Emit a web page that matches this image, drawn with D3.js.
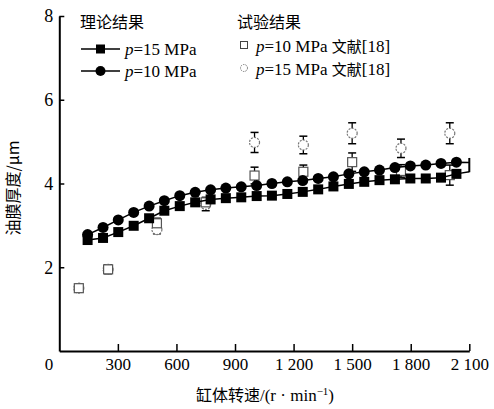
<!DOCTYPE html>
<html lang="zh">
<head>
<meta charset="UTF-8">
<title>油膜厚度</title>
<script src="https://d3js.org/d3.v7.min.js"></script>
<style>
  body { margin: 0; background: #fff; }
  svg text { font-family: "Liberation Serif", "Noto Sans CJK SC", serif; fill: #000; }
  .cjk { font-family: "Noto Sans CJK SC", "Liberation Serif", sans-serif; }
  .lat { font-family: "Liberation Serif", serif; }
</style>
</head>
<body>
<svg id="chart" width="494" height="409"></svg>
<script>
// theory curves (rpm, µm)
let speed = [145, 224, 302, 381, 460, 538, 617, 696, 775, 853, 932, 1011, 1089,
             1168, 1247, 1326, 1404, 1483, 1562, 1640, 1719, 1798, 1877, 1955, 2034];
let theory15 = [2.65, 2.70, 2.84, 2.99, 3.17, 3.35, 3.46, 3.55, 3.62, 3.65, 3.67, 3.70, 3.71,
                3.75, 3.80, 3.86, 3.93, 3.99, 4.04, 4.08, 4.10, 4.12, 4.12, 4.14, 4.23];
let theory10 = [2.78, 2.95, 3.13, 3.31, 3.46, 3.59, 3.71, 3.79, 3.85, 3.89, 3.92, 3.95, 4.00,
                4.04, 4.07, 4.12, 4.16, 4.23, 4.28, 4.32, 4.38, 4.42, 4.44, 4.48, 4.51];
// curve ends at right edge
let endSpeed = 2100;
let end15 = 4.28, end10 = 4.50;
let endBar = [4.27, 4.61];

// experiment, ref [18]
let expSpeed = [100, 250, 500, 750, 1000, 1250, 1500, 1750, 2000];
let exp10 = [1.50, 1.95, 3.05, 3.55, 4.19, 4.28, 4.51, 4.30, 4.20];
let err10 = [0.05, 0.10, 0.12, 0.12, 0.20, 0.16, 0.22, 0.15, 0.24];
let exp15 = [1.50, 1.95, 2.90, 3.50, 4.98, 4.92, 5.20, 4.84, 5.20];
let err15 = [0.05, 0.10, 0.10, 0.15, 0.24, 0.21, 0.25, 0.22, 0.25];

let xTicks = [300, 600, 900, 1200, 1500, 1800, 2100];
let yTicks = [2, 4, 6, 8];

let svg = d3.select('#chart');
let x = d3.scaleLinear().domain([0, 2100]).range([59.3, 469.3]);
let y = d3.scaleLinear().domain([0, 8]).range([351, 16]);

function fmt(v) {
    // grouping like "1 200"
    return v >= 1000 ? Math.floor(v / 1000) + ' ' + d3.format('03d')(v % 1000) : String(v);
}

// axes
let xAxis = svg.append('g').attr('transform', 'translate(0,351)')
    .call(d3.axisBottom(x).tickValues(xTicks).tickSizeInner(-7).tickSizeOuter(0).tickFormat(fmt));
xAxis.select('.domain').attr('stroke-width', 2);
xAxis.selectAll('.tick line').attr('stroke-width', 1.5);
xAxis.selectAll('.tick text').attr('y', 7).attr('font-size', 17)
    .attr('font-family', 'Liberation Serif');
xAxis.append('text').attr('x', 49).attr('y', 7).attr('dy', '0.71em')
    .attr('text-anchor', 'middle').attr('font-size', 17).attr('fill', '#000').text('0');

let yAxis = svg.append('g').attr('transform', 'translate(59.3,0)')
    .call(d3.axisLeft(y).tickValues(yTicks).tickSizeInner(-5).tickSizeOuter(0).tickFormat(d3.format('d')));
yAxis.select('.domain').attr('stroke-width', 2);
yAxis.selectAll('.tick line').attr('stroke-width', 1.5);
yAxis.selectAll('.tick text').attr('x', -6).attr('font-size', 18)
    .attr('font-family', 'Liberation Serif');

// axis titles
svg.append('text').attr('x', 265).attr('y', 401).attr('text-anchor', 'middle')
    .attr('font-size', 16).attr('class', 'cjk')
    .html('缸体转速<tspan class="lat" font-size="17">/(r · min</tspan><tspan class="lat" dy="-6" font-size="11">−1</tspan><tspan class="lat" dy="6" font-size="17">)</tspan>');
svg.append('text').attr('transform', 'translate(19,188) rotate(-90)')
    .attr('text-anchor', 'middle').attr('font-size', 16).attr('class', 'cjk')
    .text('油膜厚度/μm');

// experimental points with error bars
let expG = svg.append('g');
function errBars(vals, errs) {
    expSpeed.forEach(function (s, i) {
        let cx = x(s), top = y(vals[i] + errs[i]), bot = y(vals[i] - errs[i]);
        expG.append('line').attr('x1', cx).attr('x2', cx).attr('y1', top).attr('y2', bot)
            .attr('stroke', '#000').attr('stroke-width', 1.3);
        [top, bot].forEach(function (yy) {
            expG.append('line').attr('x1', cx - 4).attr('x2', cx + 4).attr('y1', yy).attr('y2', yy)
                .attr('stroke', '#000').attr('stroke-width', 1.5);
        });
    });
}
errBars(exp15, err15);
errBars(exp10, err10);
expG.selectAll('circle.e15').data(expSpeed).join('circle').attr('class', 'e15')
    .attr('cx', d => x(d)).attr('cy', (d, i) => y(exp15[i])).attr('r', 5)
    .attr('fill', '#fff').attr('stroke', '#777').attr('stroke-width', 1.2)
    .attr('stroke-dasharray', '2,1.2');
expG.selectAll('rect.e10').data(expSpeed).join('rect').attr('class', 'e10')
    .attr('x', d => x(d) - 4.5).attr('y', (d, i) => y(exp10[i]) - 4.5)
    .attr('width', 9).attr('height', 9)
    .attr('fill', '#fff').attr('stroke', '#555').attr('stroke-width', 1.2);

// theory curves
let line = d3.line().x(d => x(d[0])).y(d => y(d[1]));
let pts15 = speed.map((s, i) => [s, theory15[i]]).concat([[endSpeed, end15]]);
let pts10 = speed.map((s, i) => [s, theory10[i]]).concat([[endSpeed, end10]]);
svg.append('path').attr('d', line(pts15)).attr('fill', 'none').attr('stroke', '#000').attr('stroke-width', 1.5);
svg.append('path').attr('d', line(pts10)).attr('fill', 'none').attr('stroke', '#000').attr('stroke-width', 1.5);
svg.append('line').attr('x1', x(endSpeed)).attr('x2', x(endSpeed))
    .attr('y1', y(endBar[0])).attr('y2', y(endBar[1])).attr('stroke', '#000').attr('stroke-width', 2);

svg.append('g').selectAll('rect').data(speed).join('rect')
    .attr('x', d => x(d) - 5).attr('y', (d, i) => y(theory15[i]) - 5)
    .attr('width', 10).attr('height', 10).attr('fill', '#000');
svg.append('g').selectAll('circle').data(speed).join('circle')
    .attr('cx', d => x(d)).attr('cy', (d, i) => y(theory10[i])).attr('r', 5.5).attr('fill', '#000');

// legend
let lg = svg.append('g');
lg.append('text').attr('x', 80).attr('y', 28).attr('font-size', 16).attr('class', 'cjk').text('理论结果');
[[49, 'sq', '15'], [71, 'ci', '10']].forEach(function (r) {
    lg.append('line').attr('x1', 81).attr('x2', 120).attr('y1', r[0]).attr('y2', r[0])
        .attr('stroke', '#000').attr('stroke-width', 1.5);
    if (r[1] === 'sq') {
        lg.append('rect').attr('x', 96).attr('y', r[0] - 4.5).attr('width', 9).attr('height', 9).attr('fill', '#000');
    } else {
        lg.append('circle').attr('cx', 100.5).attr('cy', r[0]).attr('r', 5).attr('fill', '#000');
    }
    lg.append('text').attr('x', 125).attr('y', r[0] + 6).attr('font-size', 17)
        .html('<tspan font-style="italic">p</tspan>=' + r[2] + ' MPa');
});
lg.append('text').attr('x', 237).attr('y', 28).attr('font-size', 16).attr('class', 'cjk').text('试验结果');
lg.append('rect').attr('x', 240.5).attr('y', 41.5).attr('width', 7).attr('height', 7)
    .attr('fill', '#fff').attr('stroke', '#444').attr('stroke-width', 1);
lg.append('circle').attr('cx', 244).attr('cy', 68).attr('r', 3.5)
    .attr('fill', '#fff').attr('stroke', '#777').attr('stroke-width', 1).attr('stroke-dasharray', '1.5,1');
[[45, '10'], [68, '15']].forEach(function (r) {
    lg.append('text').attr('x', 256).attr('y', r[0] + 7).attr('font-size', 17)
        .html('<tspan font-style="italic">p</tspan>=' + r[1] + ' MPa <tspan class="cjk" font-family="Noto Sans CJK SC" font-size="15">文献</tspan>[18]');
});
</script>
</body>
</html>
